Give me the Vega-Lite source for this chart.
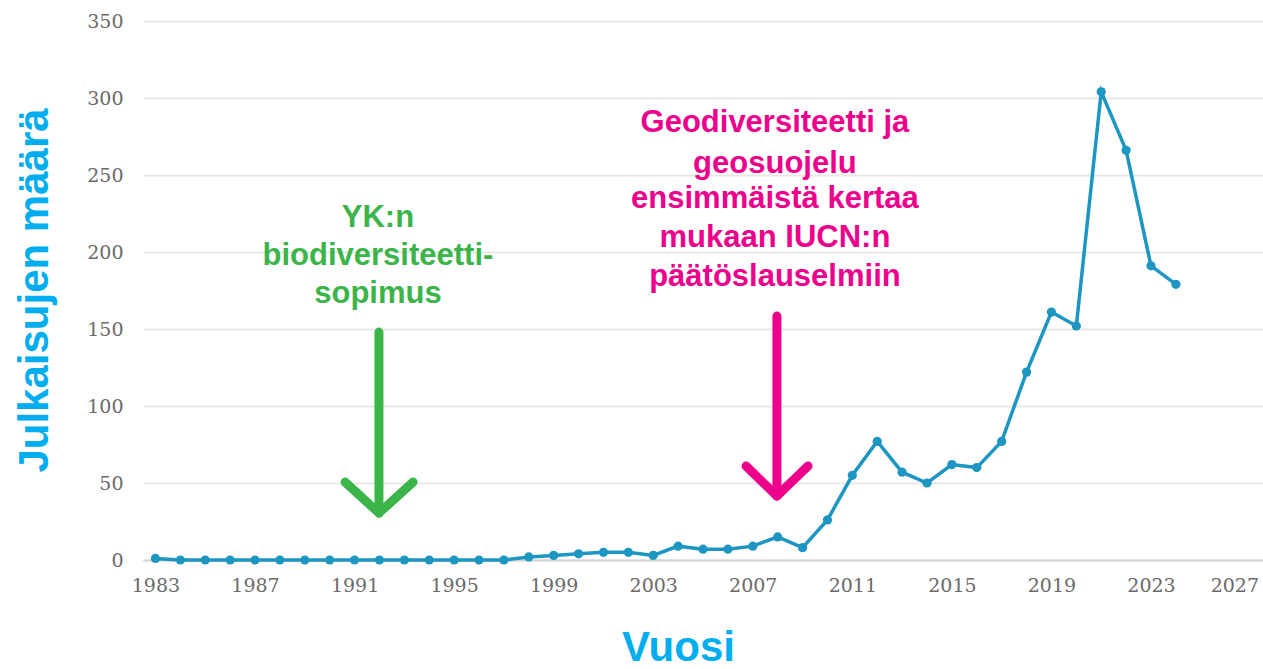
{
  "$schema": "https://vega.github.io/schema/vega-lite/v6.json",
  "autosize": {"type": "none"},
  "width": 1120,
  "height": 539,
  "padding": {"left": 143, "top": 21, "right": 0, "bottom": 109},
  "background": "white",
  "config": {
    "view": {"stroke": null},
    "axis": {
      "labelFont": "DejaVu Serif",
      "labelFontSize": 19,
      "labelColor": "#6a6a6a",
      "titleFont": "Liberation Sans",
      "titleFontSize": 42,
      "titleFontWeight": "bold",
      "titleColor": "#00AEEF"
    }
  },
  "datasets": {
    "pubs": [
      {"year": 1983, "count": 1}, {"year": 1984, "count": 0}, {"year": 1985, "count": 0},
      {"year": 1986, "count": 0}, {"year": 1987, "count": 0}, {"year": 1988, "count": 0},
      {"year": 1989, "count": 0}, {"year": 1990, "count": 0}, {"year": 1991, "count": 0},
      {"year": 1992, "count": 0}, {"year": 1993, "count": 0}, {"year": 1994, "count": 0},
      {"year": 1995, "count": 0}, {"year": 1996, "count": 0}, {"year": 1997, "count": 0},
      {"year": 1998, "count": 2}, {"year": 1999, "count": 3}, {"year": 2000, "count": 4},
      {"year": 2001, "count": 5}, {"year": 2002, "count": 5}, {"year": 2003, "count": 3},
      {"year": 2004, "count": 9}, {"year": 2005, "count": 7}, {"year": 2006, "count": 7},
      {"year": 2007, "count": 9}, {"year": 2008, "count": 15}, {"year": 2009, "count": 8},
      {"year": 2010, "count": 26}, {"year": 2011, "count": 55}, {"year": 2012, "count": 77},
      {"year": 2013, "count": 57}, {"year": 2014, "count": 50}, {"year": 2015, "count": 62},
      {"year": 2016, "count": 60}, {"year": 2017, "count": 77}, {"year": 2018, "count": 122},
      {"year": 2019, "count": 161}, {"year": 2020, "count": 152}, {"year": 2021, "count": 304},
      {"year": 2022, "count": 266}, {"year": 2023, "count": 191}, {"year": 2024, "count": 179}
    ],
    "arrows": [
      {"note": "YK", "x": 1991.98, "y": 148, "x2": 1991.98, "y2": 30.5},
      {"note": "YK", "x": 1990.62, "y": 50.6, "x2": 1991.98, "y2": 30.5},
      {"note": "YK", "x": 1993.35, "y": 50.6, "x2": 1991.98, "y2": 30.5},
      {"note": "IUCN", "x": 2007.97, "y": 158.4, "x2": 2007.97, "y2": 41.6},
      {"note": "IUCN", "x": 2006.73, "y": 61, "x2": 2007.97, "y2": 41.6},
      {"note": "IUCN", "x": 2009.22, "y": 61, "x2": 2007.97, "y2": 41.6}
    ],
    "notes": [
      {"note": "YK", "line": "YK:n", "x": 1991.94, "y": 216.2},
      {"note": "YK", "line": "biodiversiteetti-", "x": 1991.94, "y": 191.6},
      {"note": "YK", "line": "sopimus", "x": 1991.94, "y": 166.9},
      {"note": "IUCN", "line": "Geodiversiteetti ja", "x": 2007.89, "y": 277.9},
      {"note": "IUCN", "line": "geosuojelu", "x": 2007.89, "y": 251.3},
      {"note": "IUCN", "line": "ensimmäistä kertaa", "x": 2007.89, "y": 228.6},
      {"note": "IUCN", "line": "mukaan IUCN:n", "x": 2007.89, "y": 203.2},
      {"note": "IUCN", "line": "päätöslauselmiin", "x": 2007.89, "y": 177.9}
    ]
  },
  "layer": [
    {
      "data": {"name": "pubs"},
      "mark": {"type": "line", "color": "#1d96c2", "strokeWidth": 3.5, "point": {"filled": true, "size": 85, "color": "#1d96c2"}},
      "encoding": {
        "x": {
          "field": "year", "type": "quantitative",
          "scale": {"domain": [1982.5, 2027.5], "nice": false, "zero": false},
          "axis": {
            "values": [1983, 1987, 1991, 1995, 1999, 2003, 2007, 2011, 2015, 2019, 2023, 2027],
            "format": "d", "grid": false, "ticks": false,
            "domain": true, "domainColor": "#d4d4d4", "domainWidth": 2,
            "labelPadding": 16, "labelBound": false,
            "labelAlign": {"condition": {"test": "datum.value === 2027", "value": "right"}, "value": "center"},
            "labelOffset": {"condition": {"test": "datum.value === 2027", "value": 8}, "value": 0},
            "title": "Vuosi", "titleX": 535, "titleY": 100,
            "titleAlign": "center", "titleBaseline": "alphabetic", "titleAnchor": null
          }
        },
        "y": {
          "field": "count", "type": "quantitative",
          "scale": {"domain": [0, 350], "nice": false},
          "axis": {
            "values": [0, 50, 100, 150, 200, 250, 300, 350],
            "grid": true, "gridColor": "#e8e8e8", "gridWidth": 2,
            "domain": false, "ticks": false, "labelPadding": 20,
            "title": "Julkaisujen määrä", "titleAngle": -90,
            "titleX": -96, "titleY": 269,
            "titleAlign": "center", "titleBaseline": "alphabetic", "titleAnchor": null
          }
        }
      }
    },
    {
      "data": {"name": "arrows"},
      "transform": [{"filter": "datum.note === 'YK'"}],
      "mark": {"type": "rule", "color": "#3BB54A", "strokeWidth": 9, "strokeCap": "round"},
      "encoding": {
        "x": {"field": "x", "type": "quantitative"},
        "y": {"field": "y", "type": "quantitative"},
        "x2": {"field": "x2"},
        "y2": {"field": "y2"}
      }
    },
    {
      "data": {"name": "arrows"},
      "transform": [{"filter": "datum.note === 'IUCN'"}],
      "mark": {"type": "rule", "color": "#EC008C", "strokeWidth": 9, "strokeCap": "round"},
      "encoding": {
        "x": {"field": "x", "type": "quantitative"},
        "y": {"field": "y", "type": "quantitative"},
        "x2": {"field": "x2"},
        "y2": {"field": "y2"}
      }
    },
    {
      "data": {"name": "notes"},
      "transform": [{"filter": "datum.note === 'YK'"}],
      "mark": {"type": "text", "color": "#3BB54A", "font": "Liberation Sans", "fontWeight": "bold", "fontSize": 31, "align": "center", "baseline": "alphabetic"},
      "encoding": {
        "x": {"field": "x", "type": "quantitative"},
        "y": {"field": "y", "type": "quantitative"},
        "text": {"field": "line"}
      }
    },
    {
      "data": {"name": "notes"},
      "transform": [{"filter": "datum.note === 'IUCN'"}],
      "mark": {"type": "text", "color": "#EC008C", "font": "Liberation Sans", "fontWeight": "bold", "fontSize": 31, "align": "center", "baseline": "alphabetic"},
      "encoding": {
        "x": {"field": "x", "type": "quantitative"},
        "y": {"field": "y", "type": "quantitative"},
        "text": {"field": "line"}
      }
    }
  ]
}
